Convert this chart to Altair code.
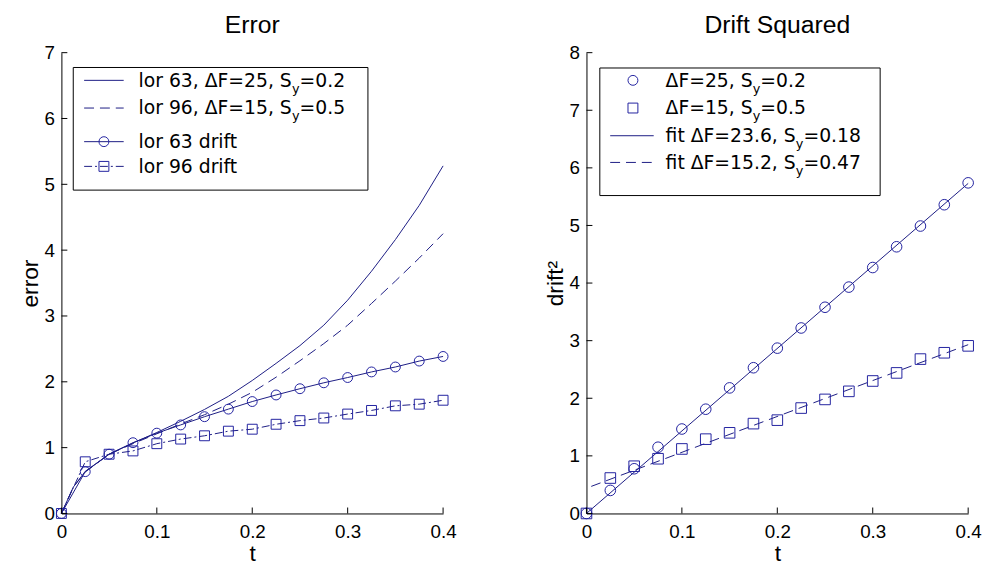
import altair as alt
import pandas as pd

# ---------------- data ----------------
t_markers = [0, 0.025, 0.05, 0.075, 0.1, 0.125, 0.15, 0.175, 0.2, 0.225,
             0.25, 0.275, 0.3, 0.325, 0.35, 0.375, 0.4]
t_curve = [0, 0.0125, 0.025, 0.05, 0.075, 0.1, 0.125, 0.15, 0.175, 0.2,
           0.225, 0.25, 0.275, 0.3, 0.325, 0.35, 0.375, 0.4]

err_lor63 = [0, 0.40, 0.64, 0.90, 1.07, 1.23, 1.40, 1.58, 1.78, 2.02,
             2.28, 2.55, 2.86, 3.24, 3.68, 4.16, 4.68, 5.28]
err_lor96 = [0, 0.40, 0.63, 0.90, 1.06, 1.21, 1.36, 1.50, 1.66, 1.84,
             2.07, 2.32, 2.58, 2.86, 3.19, 3.53, 3.88, 4.25]

drift_lor63 = [0, 0.635, 0.90, 1.075, 1.22, 1.345, 1.47, 1.585, 1.70, 1.80,
               1.895, 1.985, 2.065, 2.15, 2.225, 2.315, 2.385]
drift_lor96 = [0, 0.785, 0.90, 0.95, 1.06, 1.13, 1.18, 1.25, 1.28, 1.355,
               1.41, 1.45, 1.51, 1.565, 1.635, 1.66, 1.72]

drift2_f25 = [0, 0.40, 0.776, 1.15, 1.466, 1.81, 2.18, 2.53, 2.87, 3.22,
              3.58, 3.93, 4.27, 4.63, 4.99, 5.36, 5.74]
drift2_f15 = [0, 0.615, 0.82, 0.95, 1.12, 1.29, 1.40, 1.56, 1.62, 1.83,
              1.98, 2.12, 2.30, 2.44, 2.68, 2.79, 2.91]

fit_t_solid = [0, 0.4]
fit_solid = [0, 5.73]
fit_t_dashed = [0.005, 0.4]
fit_dashed = [0.47, 2.93]

x_ticks = [0, 0.1, 0.2, 0.3, 0.4]
y_ticks_left = [0, 1, 2, 3, 4, 5, 6, 7]
y_ticks_right = [0, 1, 2, 3, 4, 5, 6, 7, 8]

# ---------------- style ----------------
W, H = 386, 466
LINE = "#1c1c84"
MARK = "#2222a0"
FONT = "Liberation Sans"
LFONT = "DejaVu Sans"
LFS = 19
SUBFS = 13

DW = {' ': .318, ',': .318, '.': .318, '=': .838, 'l': .278, 'o': .612,
      'r': .411, 'F': .575, 'S': .635, 'f': .352, 'i': .278, 't': .392,
      'd': .635, 'y': .592, 'Δ': .684}
for _d in "0123456789":
    DW[_d] = .636


def tw(s, fs):
    return sum(DW.get(c, .6) for c in s) * fs


def df(t, v):
    return pd.DataFrame({"t": t, "v": v})


one = pd.DataFrame({"k": [0]})


def axes(ymax, yvals, ytitle):
    X = alt.X("t:Q", scale=alt.Scale(domain=[0, 0.4], nice=False, zero=False),
              axis=alt.Axis(values=x_ticks, format=".1~f", title="t", ticks=False,
                            grid=False, labelFlush=False, labelOverlap=False,
                            labelPadding=9, titlePadding=2))
    Y = alt.Y("v:Q", scale=alt.Scale(domain=[0, ymax], nice=False, zero=False),
              axis=alt.Axis(values=yvals, format="d", title=ytitle, ticks=False,
                            grid=False, labelFlush=False, labelOverlap=False,
                            labelPadding=7, titlePadding=2))
    return X, Y


def inward_ticks(X, Y, yvals):
    xt = alt.Chart(pd.DataFrame({"t": x_ticks})).mark_rule(
        color="black", strokeWidth=1).encode(x=X, y=alt.value(H), y2=alt.value(H - 6))
    yt = alt.Chart(pd.DataFrame({"v": yvals})).mark_rule(
        color="black", strokeWidth=1).encode(y=Y, x=alt.value(0), x2=alt.value(6))
    return [xt, yt]


def legend_text(x, yc, pre, post=None):
    base = yc + 6.5
    layers = [alt.Chart(one).mark_text(align="left", baseline="alphabetic",
                                       font=LFONT, fontSize=LFS, color="black")
              .encode(x=alt.value(x), y=alt.value(base), text=alt.value(pre))]
    if post is not None:
        xs = x + tw(pre, LFS)
        layers.append(alt.Chart(one).mark_text(align="left", baseline="alphabetic",
                                               font=LFONT, fontSize=SUBFS, color="black")
                      .encode(x=alt.value(xs), y=alt.value(base + 6), text=alt.value("y")))
        layers.append(alt.Chart(one).mark_text(align="left", baseline="alphabetic",
                                               font=LFONT, fontSize=LFS, color="black")
                      .encode(x=alt.value(xs + tw("y", SUBFS)), y=alt.value(base),
                              text=alt.value(post)))
    return layers


def legend_line(x1, x2, y, dash=None):
    kw = dict(color=LINE, strokeWidth=1)
    if dash:
        kw["strokeDash"] = dash
    return alt.Chart(one).mark_rule(**kw).encode(
        x=alt.value(x1), x2=alt.value(x2), y=alt.value(y))


def legend_marker(x, y, shape, size):
    return alt.Chart(one).mark_point(shape=shape, size=size, filled=False,
                                     color=MARK, strokeWidth=1, opacity=1).encode(
        x=alt.value(x), y=alt.value(y))


def legend_box(x1, x2, y1, y2):
    return alt.Chart(one).mark_rect(fill="white", stroke="black", strokeWidth=1).encode(
        x=alt.value(x1), x2=alt.value(x2), y=alt.value(y1), y2=alt.value(y2))


DASH = [10, 6]
DASHDOT = [8, 3, 2, 3]

# ---------------- left panel ----------------
XL, YL = axes(7, y_ticks_left, "error")
left_layers = [
    alt.Chart(df(t_curve, err_lor63)).mark_line(color=LINE, strokeWidth=1).encode(x=XL, y=YL),
    alt.Chart(df(t_curve, err_lor96)).mark_line(color=LINE, strokeWidth=1,
                                                strokeDash=DASH).encode(x=XL, y=YL),
    alt.Chart(df(t_markers, drift_lor63)).mark_line(color=LINE, strokeWidth=1).encode(x=XL, y=YL),
    alt.Chart(df(t_markers, drift_lor63)).mark_point(shape="circle", size=100, filled=False,
                                                     color=MARK, strokeWidth=1, opacity=1).encode(x=XL, y=YL),
    alt.Chart(df(t_markers, drift_lor96)).mark_line(color=LINE, strokeWidth=1,
                                                    strokeDash=DASHDOT).encode(x=XL, y=YL),
    alt.Chart(df(t_markers, drift_lor96)).mark_point(shape="square", size=100, filled=False,
                                                     color=MARK, strokeWidth=1, opacity=1).encode(x=XL, y=YL),
] + inward_ticks(XL, YL, y_ticks_left)

lx = 78
L_ROWS = [28, 56, 90, 115]
left_layers += [legend_box(12, 310, 15, 139),
                legend_line(23, 63, L_ROWS[0]),
                legend_line(23, 63, L_ROWS[1], DASH),
                legend_line(23, 63, L_ROWS[2]), legend_marker(43, L_ROWS[2], "circle", 100),
                legend_line(23, 63, L_ROWS[3], DASHDOT), legend_marker(43, L_ROWS[3], "square", 100)]
left_layers += legend_text(lx, L_ROWS[0], "lor 63, ΔF=25, S", "=0.2")
left_layers += legend_text(lx, L_ROWS[1], "lor 96, ΔF=15, S", "=0.5")
left_layers += legend_text(lx, L_ROWS[2], "lor 63 drift")
left_layers += legend_text(lx, L_ROWS[3], "lor 96 drift")

title_kw = dict(fontSize=25, fontWeight="normal", font=FONT, color="black",
                frame="group", offset=6, anchor="middle")

left = alt.layer(*left_layers).properties(
    width=W, height=H, title=alt.TitleParams("Error", **title_kw))

# ---------------- right panel ----------------
XR, YR = axes(8, y_ticks_right, "drift²")
right_layers = [
    alt.Chart(df(fit_t_solid, fit_solid)).mark_line(color=LINE, strokeWidth=1).encode(x=XR, y=YR),
    alt.Chart(df(fit_t_dashed, fit_dashed)).mark_line(color=LINE, strokeWidth=1,
                                                      strokeDash=DASH).encode(x=XR, y=YR),
    alt.Chart(df(t_markers, drift2_f25)).mark_point(shape="circle", size=115, filled=False,
                                                    color=MARK, strokeWidth=1, opacity=1).encode(x=XR, y=YR),
    alt.Chart(df(t_markers, drift2_f15)).mark_point(shape="square", size=115, filled=False,
                                                    color=MARK, strokeWidth=1, opacity=1).encode(x=XR, y=YR),
] + inward_ticks(XR, YR, y_ticks_right)

rx = 80
R_ROWS = [28, 56, 84, 111]
right_layers += [legend_box(13.5, 297, 15.5, 144.5),
                 legend_marker(47, R_ROWS[0], "circle", 100),
                 legend_marker(47, R_ROWS[1], "square", 100),
                 legend_line(24, 68, R_ROWS[2]),
                 legend_line(24, 68, R_ROWS[3], DASH)]
right_layers += legend_text(rx, R_ROWS[0], "ΔF=25, S", "=0.2")
right_layers += legend_text(rx, R_ROWS[1], "ΔF=15, S", "=0.5")
right_layers += legend_text(rx, R_ROWS[2], "fit ΔF=23.6, S", "=0.18")
right_layers += legend_text(rx, R_ROWS[3], "fit ΔF=15.2, S", "=0.47")

right = alt.layer(*right_layers).properties(
    width=W, height=H, title=alt.TitleParams("Drift Squared", **title_kw))

chart = alt.hconcat(left, right, spacing=88).properties(
    padding={"left": 11, "top": 2, "right": 0, "bottom": 0}
).configure_view(stroke=None).configure_axis(
    domainColor="black", domainWidth=1,
    labelFont=FONT, labelFontSize=19, labelColor="black",
    titleFont=FONT, titleFontSize=23, titleFontWeight="normal", titleColor="black"
)

chart.save("out.html", embed_options={"renderer": "svg", "actions": False})
